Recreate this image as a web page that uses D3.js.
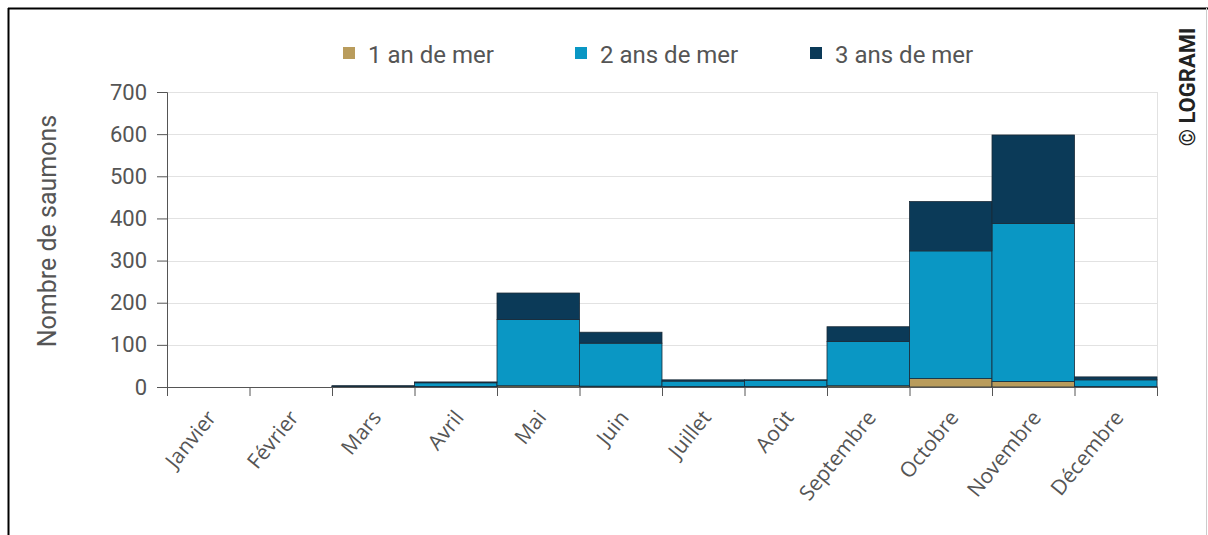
<!DOCTYPE html>
<html><head><meta charset="utf-8">
<script src="https://cdn.jsdelivr.net/npm/d3@7"></script>
<style>body{margin:0;background:#fff}svg{display:block}</style>
</head><body>
<svg id="c" width="1208" height="535"></svg>
<script>
const months = ["Janvier","Février","Mars","Avril","Mai","Juin","Juillet","Août","Septembre","Octobre","Novembre","Décembre"];
const seriesNames = ["1 an de mer","2 ans de mer","3 ans de mer"];
const an1 = [0, 0, 1, 1, 3, 2, 1, 1, 3, 20, 13, 1];
const an2 = [0, 0, 1, 9, 157, 102, 13, 15, 105, 303, 375, 16];
const an3 = [0, 0, 1, 2, 63, 26, 3, 1, 35, 117, 210, 7];
const yTicks = [0,100,200,300,400,500,600,700];
const colors = ["#b99c5c","#0a97c4","#0b3a58"];

const svg = d3.select("#c");
const pLeft = 167, pRight = 1157, pTop = 92, pBottom = 387;
const x = d3.scaleBand().domain(months).range([pLeft,pRight]).padding(0);
const y = d3.scaleLinear().domain([0,700]).range([pBottom,pTop]);

// frame
svg.append("line").attr("x1",8).attr("x2",1208).attr("y1",8.5).attr("y2",8.5).attr("stroke","#000").attr("stroke-width",2);
svg.append("line").attr("x1",8.5).attr("x2",8.5).attr("y1",8).attr("y2",535).attr("stroke","#000").attr("stroke-width",2);
svg.append("line").attr("x1",1206.5).attr("x2",1206.5).attr("y1",8).attr("y2",535).attr("stroke","#ccc").attr("stroke-width",1);

// grid
svg.append("g").selectAll("line").data(yTicks.slice(1)).join("line")
  .attr("x1",pLeft).attr("x2",pRight).attr("y1",d=>Math.round(y(d))+0.5).attr("y2",d=>Math.round(y(d))+0.5)
  .attr("stroke","#e2e2e2");
svg.append("line").attr("x1",pRight+0.5).attr("x2",pRight+0.5).attr("y1",pTop).attr("y2",pBottom).attr("stroke","#e2e2e2");

// stacked bars
const rows = months.map((m,i)=>({month:m, a:an1[i], b:an2[i], c:an3[i]}));
const stack = d3.stack().keys(["a","b","c"])(rows);
svg.append("g").selectAll("g").data(stack).join("g")
  .attr("fill",(d,i)=>colors[i])
  .selectAll("rect").data(d=>d).join("rect")
  .attr("x",d=>x(d.data.month)).attr("width",x.bandwidth())
  .attr("y",d=>y(d[1])).attr("height",d=>Math.max(0,y(d[0])-y(d[1])))
  .attr("stroke","#1b2b38").attr("stroke-width",0.8);

// y axis
const yAxis = svg.append("g").attr("transform",`translate(${pLeft},0)`)
  .call(d3.axisLeft(y).tickValues(yTicks).tickSize(10).tickPadding(10));
yAxis.select(".domain").attr("stroke","#555");
yAxis.selectAll(".tick line").attr("stroke","#555");
yAxis.selectAll("text").attr("font-family","Roboto, sans-serif").attr("font-size",22).attr("fill","#555");

// x axis
const xAxis = svg.append("g").attr("transform",`translate(0,${pBottom})`);
xAxis.append("line").attr("x1",pLeft).attr("x2",pRight).attr("y1",0.5).attr("y2",0.5).attr("stroke","#555");
const bounds = months.map(m=>x(m)).concat([pRight]);
xAxis.selectAll(".tk").data(bounds).join("line").attr("class","tk")
  .attr("x1",d=>d+0.5).attr("x2",d=>d+0.5).attr("y1",0).attr("y2",9).attr("stroke","#555");
xAxis.selectAll(".lb").data(months).join("text").attr("class","lb")
  .attr("transform",d=>`translate(${x(d)+x.bandwidth()/2+9},${31}) rotate(-51)`)
  .attr("text-anchor","end").attr("font-family","'Open Sans', sans-serif").attr("font-size",21).attr("fill","#555")
  .text(d=>d);

// y title
svg.append("text").attr("transform","translate(56,231) rotate(-90)").attr("text-anchor","middle")
  .attr("font-family","Roboto, sans-serif").attr("font-size",25).attr("fill","#555").text("Nombre de saumons");

// legend
const legX = [343, 575, 810];
const leg = svg.append("g");
seriesNames.forEach((n,i)=>{
  leg.append("rect").attr("x",legX[i]).attr("y",47).attr("width",12).attr("height",12).attr("fill",colors[i]);
  leg.append("text").attr("x",legX[i]+25).attr("y",63).attr("font-family","Roboto, sans-serif").attr("font-size",24).attr("fill","#555").text(n);
});

// copyright
svg.append("text").attr("transform","translate(1195,87) rotate(-90)").attr("text-anchor","middle")
  .attr("font-family","Roboto, sans-serif").attr("font-weight","bold").attr("font-size",22).attr("fill","#222").text("© LOGRAMI");
</script>
</body></html>
